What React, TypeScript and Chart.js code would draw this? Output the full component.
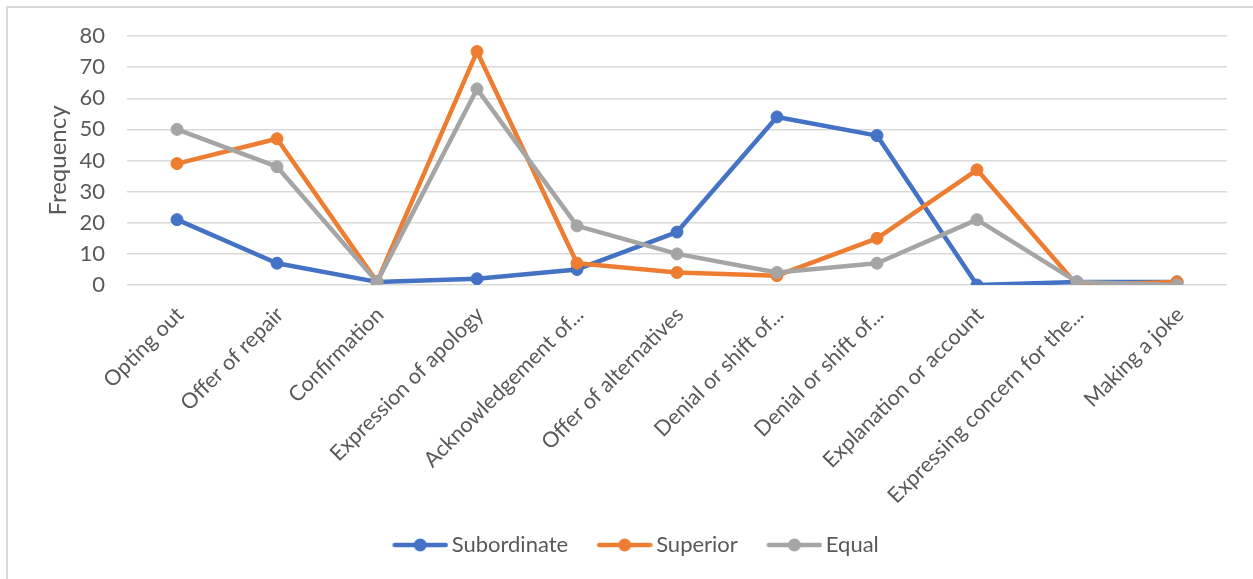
import { useEffect, useRef } from "react";
import { Chart, registerables } from "chart.js";

Chart.register(...registerables);

// Response strategies on the category axis
const categories = [
  "Opting out",
  "Offer of repair",
  "Confirmation",
  "Expression of apology",
  "Acknowledgement of...",
  "Offer of alternatives",
  "Denial or shift of...",
  "Denial or shift of...",
  "Explanation or account",
  "Expressing concern for the...",
  "Making a joke",
];

// Frequency per relationship
const subordinate = [21, 7, 1, 2, 5, 17, 54, 48, 0, 1, 1];
const superior = [39, 47, 1, 75, 7, 4, 3, 15, 37, 0, 1];
const equal = [50, 38, 1, 63, 19, 10, 4, 7, 21, 1, 0];

const seriesNames = ["Subordinate", "Superior", "Equal"];
const seriesColors = ["#4472C4", "#ED7D31", "#A5A5A5"];

const yMin = 0;
const yMax = 80;
const yStep = 10;
const yTitle = "Frequency";

const FONT = "Lato";
const TEXT = "#595959";
const GRID = "#d9d9d9";

// Legend symbol box: transparent lead-in, then a short line with a dot in the middle
const SYMBOL_BOX = 67;
function legendSymbol(color: string): HTMLCanvasElement {
  const c = document.createElement("canvas");
  c.width = SYMBOL_BOX + 15;
  c.height = 14;
  const g = c.getContext("2d")!;
  const x0 = 26;
  const x1 = c.width;
  g.strokeStyle = color;
  g.lineWidth = 4.5;
  g.lineCap = "round";
  g.beginPath();
  g.moveTo(x0 + 2.5, 7);
  g.lineTo(x1 - 2.5, 7);
  g.stroke();
  g.fillStyle = color;
  g.beginPath();
  g.arc((x0 + x1) / 2, 7, 6.5, 0, Math.PI * 2);
  g.fill();
  return c;
}

// Thin frame along the top and left edges
const framePlugin = {
  id: "frame",
  beforeDraw(chart: any) {
    const ctx = chart.ctx;
    ctx.save();
    ctx.fillStyle = GRID;
    ctx.fillRect(6, 6, chart.width - 6, 2);
    ctx.fillRect(6, 6, 2, chart.height - 6);
    ctx.restore();
  },
};

export default function App() {
  const ref = useRef<HTMLCanvasElement | null>(null);

  useEffect(() => {
    if (!ref.current) return;
    const values = [subordinate, superior, equal];
    const symbols = seriesColors.map(legendSymbol);
    const chart = new Chart(ref.current, {
      type: "line",
      data: {
        labels: categories,
        datasets: values.map((v, i) => ({
          label: seriesNames[i],
          data: v,
          borderColor: seriesColors[i],
          backgroundColor: seriesColors[i],
          borderWidth: 4.5,
          borderJoinStyle: "round" as const,
          borderCapStyle: "round" as const,
          pointRadius: 6,
          pointBorderWidth: 1,
          pointBackgroundColor: seriesColors[i],
          pointBorderColor: seriesColors[i],
          tension: 0,
          order: 3 - i,
        })),
      },
      options: {
        responsive: false,
        animation: false,
        devicePixelRatio: 1,
        layout: { padding: { left: 25.5, right: 26, top: 36, bottom: 13 } },
        plugins: {
          tooltip: { enabled: false },
          legend: {
            position: "bottom",
            labels: {
              font: { family: FONT, size: 22 },
              color: TEXT,
              usePointStyle: true,
              pointStyleWidth: SYMBOL_BOX,
              padding: 10,
              sort: (a: any, b: any) => a.datasetIndex - b.datasetIndex,
              generateLabels: (chart: any) => {
                const items = Chart.defaults.plugins.legend.labels.generateLabels(chart);
                return items.map((it: any) => ({ ...it, pointStyle: symbols[it.datasetIndex] }));
              },
            },
          },
        },
        scales: {
          x: {
            offset: true,
            grid: { display: false, drawTicks: false },
            border: { display: false },
            ticks: {
              autoSkip: false,
              minRotation: 45,
              maxRotation: 45,
              labelOffset: 3,
              padding: 17,
              color: TEXT,
              font: { family: FONT, size: 21.5 },
            },
            afterFit: (scale: any) => {
              scale.height = 239;
            },
          },
          y: {
            min: yMin,
            max: yMax,
            ticks: {
              stepSize: yStep,
              padding: 22,
              color: TEXT,
              font: { family: FONT, size: 22 },
            },
            grid: { color: GRID, lineWidth: 1.5, drawTicks: false },
            border: { display: false },
            title: {
              display: true,
              text: yTitle,
              color: TEXT,
              font: { family: FONT, size: 24 },
              padding: { top: 18, bottom: 0 },
            },
            afterFit: (scale: any) => {
              scale.width = 101.5;
            },
          },
        },
      },
      plugins: [framePlugin],
    });
    return () => chart.destroy();
  }, []);

  return (
    <div style={{ position: "absolute", left: 0, top: 0, width: 1253, height: 579, background: "#fff" }}>
      <canvas ref={ref} width={1253} height={579} />
    </div>
  );
}
